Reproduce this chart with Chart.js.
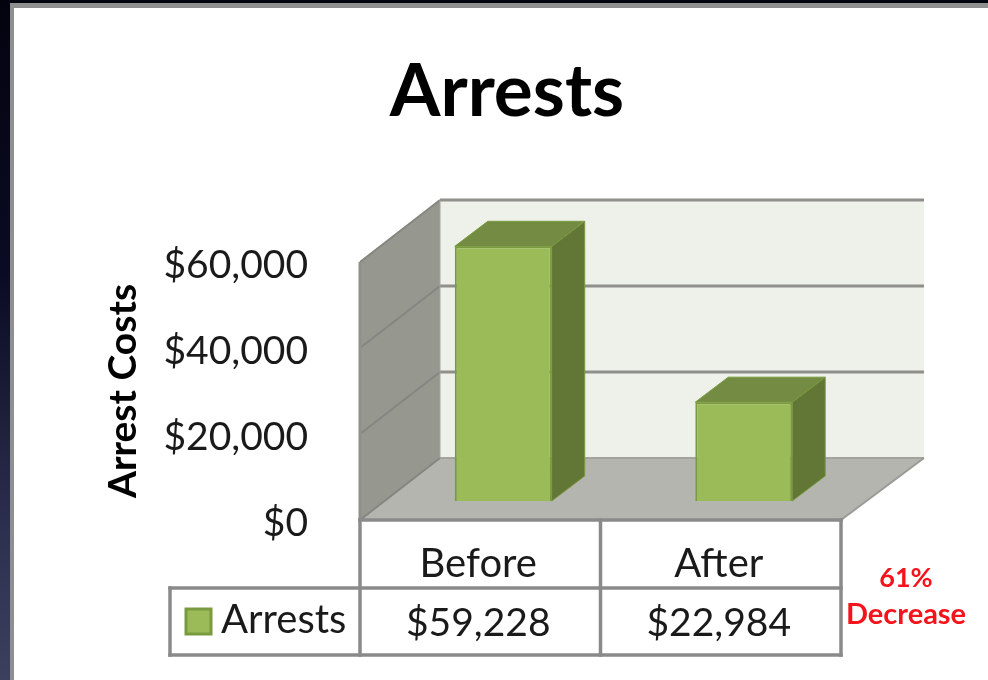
<!DOCTYPE html>
<html><head><meta charset="utf-8">
<style>
html,body{margin:0;padding:0;width:988px;height:680px;overflow:hidden;background:linear-gradient(180deg,#03030f 0%,#0a0b22 40%,#2e3150 80%,#3d405c 100%);}
#frame{position:absolute;left:10px;top:3px;width:978px;height:677px;box-sizing:border-box;background:#fff;border-left:4px solid #8f8f8f;border-top:5px solid #8f8f8f;}
canvas{position:absolute;left:0;top:0;}
</style>
<script src="https://cdn.jsdelivr.net/npm/chart.js@4"></script>
</head><body>
<div id="frame"></div>
<canvas id="c" width="988" height="680"></canvas>
<script>
const categories = ["Before", "After"];
const seriesName = "Arrests";
const arrestCosts = [59228, 22984];
const tickValues = [0, 20000, 40000, 60000];
const titleText = "Arrests";
const yAxisTitle = "Arrest Costs";
const noteLines = ["61%", "Decrease"];

const money = v => "$" + Number(v).toLocaleString("en-US");
const FONT = "Lato, Carlito, sans-serif";
const DEPTH = {x: 80, y: -62};
const BAR_SHIFT = {x: 23, y: -19};
const BAR_DEPTH = {x: 33, y: -25};
const GRID = "#8a8a8a";

function poly(ctx, pts, fill, stroke, lw){
  ctx.beginPath();
  pts.forEach((p,i)=> i ? ctx.lineTo(p[0],p[1]) : ctx.moveTo(p[0],p[1]));
  ctx.closePath();
  if(fill){ctx.fillStyle=fill;ctx.fill();}
  if(stroke){ctx.strokeStyle=stroke;ctx.lineWidth=lw||1;ctx.stroke();}
}
function seg(ctx,x1,y1,x2,y2,c,w){
  ctx.beginPath();ctx.moveTo(x1,y1);ctx.lineTo(x2,y2);ctx.strokeStyle=c;ctx.lineWidth=w;ctx.stroke();
}

const scene3d = {
  id:"scene3d",
  beforeDatasetsDraw(chart){
    const {ctx,chartArea:a,scales:{y}} = chart;
    const l=a.left, r=a.right, b=a.bottom, t=a.top;
    const backR = r + 83;
    ctx.save();
    poly(ctx,[[l+DEPTH.x,t+DEPTH.y],[backR,t+DEPTH.y],[backR,b+DEPTH.y],[l+DEPTH.x,b+DEPTH.y]],"#eef1ea");
    poly(ctx,[[l,t],[l+DEPTH.x,t+DEPTH.y],[l+DEPTH.x,b+DEPTH.y],[l,b]],"#969890");
    poly(ctx,[[l,b],[l+DEPTH.x,b+DEPTH.y],[backR,b+DEPTH.y],[r,b]],"#b3b5ae");
    tickValues.forEach(v=>{
      const p=y.getPixelForValue(v);
      seg(ctx,l+DEPTH.x,p+DEPTH.y,backR,p+DEPTH.y,v===0?"#a3a49e":"#8f908c",v===0?2:3);
      seg(ctx,l,p,l+DEPTH.x,p+DEPTH.y,"#85867f",2);
    });
    seg(ctx,l,t,l,b,"#8f908a",3);
    seg(ctx,l+DEPTH.x,t+DEPTH.y,l+DEPTH.x,b+DEPTH.y,"#a3a49e",1);
    seg(ctx,r,b,backR,b+DEPTH.y,"#9a9a96",2);
    // bar side and top faces, taken from the bar elements
    ctx.translate(BAR_SHIFT.x,BAR_SHIFT.y);
    chart.getDatasetMeta(0).data.forEach(el=>{
      const x0=el.x-el.width/2,x1=el.x+el.width/2,yt=el.y,yb=el.base;
      poly(ctx,[[x1,yt],[x1+BAR_DEPTH.x,yt+BAR_DEPTH.y],[x1+BAR_DEPTH.x,yb+BAR_DEPTH.y],[x1,yb]],"#627635","#7a9a3e",1);
      poly(ctx,[[x0,yt],[x0+BAR_DEPTH.x,yt+BAR_DEPTH.y],[x1+BAR_DEPTH.x,yt+BAR_DEPTH.y],[x1,yt]],"#738b42","#7a9a3e",1);
    });
    ctx.restore();
    ctx.save();
    ctx.translate(BAR_SHIFT.x,BAR_SHIFT.y);
  },
  afterDatasetsDraw(chart){
    chart.ctx.restore();
  },
  afterDraw(chart){
    const {ctx,chartArea:a,scales:{x}} = chart;
    const cw=x.getPixelForValue(1)-x.getPixelForValue(0);
    const l=a.left,b=a.bottom,r=a.right;
    const rowY=588,botY=655,keyL=170;
    ctx.save();
    ctx.lineCap="square";
    seg(ctx,l,b,r,b,GRID,3.5);
    [l,l+cw,r].forEach(px=>seg(ctx,px,b,px,botY,GRID,3.5));
    seg(ctx,keyL,rowY,r,rowY,GRID,3.5);
    seg(ctx,keyL,botY,r,botY,GRID,3.5);
    seg(ctx,keyL,rowY,keyL,botY,GRID,3.5);
    ctx.textBaseline="middle";
    ctx.fillStyle="#1a1a1a";
    ctx.font="39px "+FONT;
    ctx.textAlign="center";
    arrestCosts.forEach((v,i)=>ctx.fillText(money(v),x.getPixelForValue(i)-2,623));
    ctx.font="40px "+FONT;
    ctx.textAlign="left";
    ctx.fillText(seriesName,221,620);
    ctx.fillStyle="#9bbb59";ctx.strokeStyle="#7a9a3e";ctx.lineWidth=3;
    ctx.fillRect(186,609,25,25);ctx.strokeRect(186,609,25,25);
    ctx.fillStyle="#f5141c";
    ctx.textAlign="center";
    ctx.font="bold 27px "+FONT;
    ctx.fillText(noteLines[0],906,578);
    ctx.font="bold 29px "+FONT;
    ctx.fillText(noteLines[1],906,615);
    ctx.restore();
  }
};

new Chart(document.getElementById("c"),{
  type:"bar",
  data:{labels:categories,datasets:[{
    label:seriesName,data:arrestCosts,yAxisID:"y",
    backgroundColor:"#9bbb59",borderColor:"#7a9a3e",borderWidth:2,
    categoryPercentage:1,barPercentage:0.403,clip:false
  }]},
  plugins:[scene3d],
  options:{
    responsive:false,animation:false,
    layout:{padding:{left:150,right:124,top:0,bottom:0}},
    plugins:{
      legend:{display:false},tooltip:{enabled:false},
      title:{display:true,text:titleText,color:"#000",
        font:{family:FONT,size:73,weight:"bold",lineHeight:1.2},
        padding:{top:49,bottom:125.4}}
    },
    scales:{
      x:{grid:{display:false},border:{display:false},
        ticks:{color:"#1a1a1a",font:{family:FONT,size:40},padding:12,maxRotation:0,labelOffset:-2},
        afterFit(s){s.height=160;}},
      y:{min:0,max:60000,grid:{display:false},border:{display:false},
        ticks:{stepSize:20000,color:"#1a1a1a",font:{family:FONT,size:39},padding:44,labelOffset:3,callback:v=>money(v)},
        title:{display:true,text:yAxisTitle,color:"#000",font:{family:FONT,size:39,weight:"bold",lineHeight:1.2},padding:{top:-50.4,bottom:0}},
        afterFit(s){s.width=210;}},
      spacer:{position:"right",min:0,max:1,grid:{display:false},border:{display:false},
        ticks:{display:false},afterFit(s){s.width=23;}}
    }
  }
});
</script>
</body></html>
